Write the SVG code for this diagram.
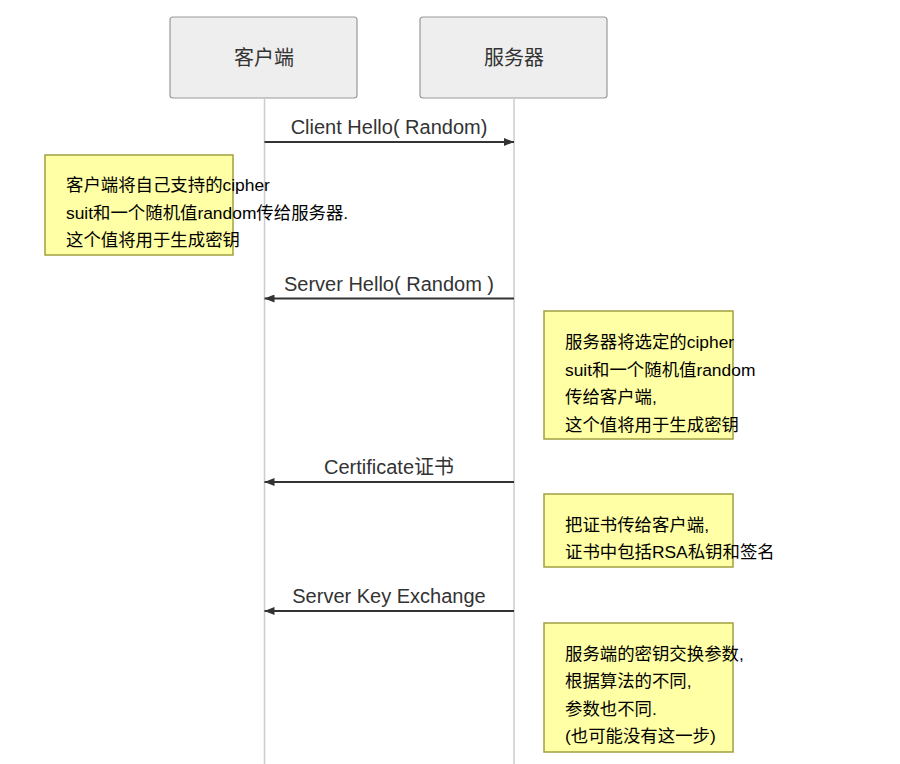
<svg xmlns="http://www.w3.org/2000/svg" width="900" height="764" viewBox="0 0 900 764">
<style>
  .life { stroke: #cccccc; stroke-width: 1.5; fill: none; }
  .actor rect { fill: #eeeeee; stroke: #999999; stroke-width: 1.2; }
  .actor text { font-family: "Liberation Sans", "Noto Sans CJK SC", sans-serif; font-size: 20px; fill: #333333; text-anchor: middle; }
  .msg line { stroke: #333333; stroke-width: 2; }
  .msg text { font-family: "Liberation Sans", "Noto Sans CJK SC", sans-serif; font-size: 20px; fill: #333333; text-anchor: middle; }
  .note rect { fill: #ffffa5; stroke: #a0a040; stroke-width: 1.5; }
  .note text { font-family: "Liberation Sans", "Noto Sans CJK SC", sans-serif; font-size: 17.4px; fill: #000000; }
</style>
<defs>
  <marker id="arrow" viewBox="0 0 10 8" refX="10" refY="4" markerWidth="10" markerHeight="8" markerUnits="userSpaceOnUse" orient="auto">
    <path d="M0,0 L10,4 L0,8 Z" fill="#333333"/>
  </marker>
</defs>
<rect width="900" height="764" fill="#ffffff"/>
<g id="lifelines">
  <line class="life" x1="264.5" y1="99" x2="264.5" y2="764"/>
  <line class="life" x1="514" y1="99" x2="514" y2="764"/>
</g>
<g id="client" class="actor">
  <rect x="170" y="17" width="187" height="81" rx="3" ry="3"/>
  <text x="264" y="65">客户端</text>
</g>
<g id="server" class="actor">
  <rect x="420" y="17" width="187" height="81" rx="3" ry="3"/>
  <text x="514" y="65">服务器</text>
</g>
<g id="connectors">
  <g class="msg" id="m1">
    <line x1="264.5" y1="142" x2="514" y2="142" marker-end="url(#arrow)"/>
    <text x="389" y="134">Client Hello( Random)</text>
  </g>
  <g class="msg" id="m2">
    <line x1="514" y1="298.5" x2="264.5" y2="298.5" marker-end="url(#arrow)"/>
    <text x="389" y="290.5">Server Hello( Random )</text>
  </g>
  <g class="msg" id="m3">
    <line x1="514" y1="482" x2="264.5" y2="482" marker-end="url(#arrow)"/>
    <text x="389" y="474">Certificate证书</text>
  </g>
  <g class="msg" id="m4">
    <line x1="514" y1="611" x2="264.5" y2="611" marker-end="url(#arrow)"/>
    <text x="389" y="603">Server Key Exchange</text>
  </g>
</g>
<g id="note1" class="note">
  <rect x="45" y="155" width="188" height="100"/>
  <text x="66" y="191">客户端将自己支持的cipher</text>
  <text x="66" y="218.5">suit和一个随机值random传给服务器.</text>
  <text x="66" y="246">这个值将用于生成密钥</text>
</g>
<g id="note2" class="note">
  <rect x="544" y="311" width="189" height="128"/>
  <text x="565" y="348">服务器将选定的cipher</text>
  <text x="565" y="375.5">suit和一个随机值random</text>
  <text x="565" y="403">传给客户端,</text>
  <text x="565" y="430.5">这个值将用于生成密钥</text>
</g>
<g id="note3" class="note">
  <rect x="544" y="494" width="189" height="73"/>
  <text x="565" y="530.5">把证书传给客户端,</text>
  <text x="565" y="558">证书中包括RSA私钥和签名</text>
</g>
<g id="note4" class="note">
  <rect x="544" y="623" width="189" height="129"/>
  <text x="565" y="659.5">服务端的密钥交换参数,</text>
  <text x="565" y="687">根据算法的不同,</text>
  <text x="565" y="714.5">参数也不同.</text>
  <text x="565" y="742">(也可能没有这一步)</text>
</g>
</svg>
